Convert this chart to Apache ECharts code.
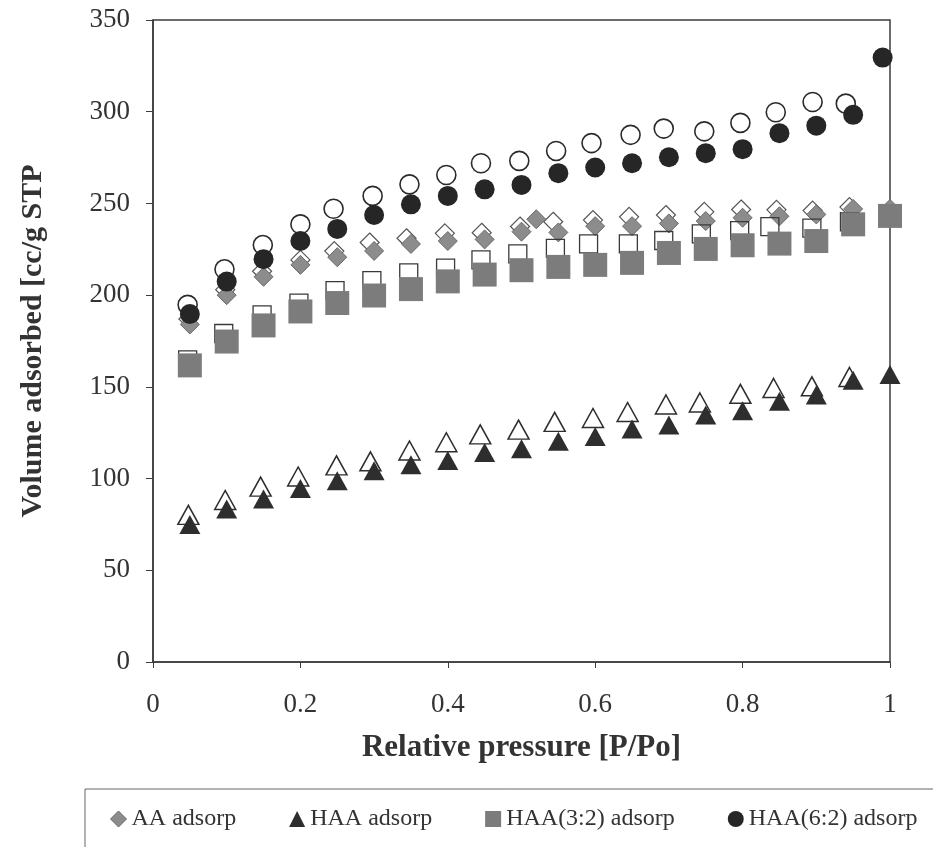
<!DOCTYPE html>
<html>
<head>
<meta charset="utf-8">
<title>Adsorption isotherms</title>
<script src="https://cdn.jsdelivr.net/npm/echarts@6.0.0/dist/echarts.min.js"></script>
<style>
  html, body { margin: 0; padding: 0; background: #fff; }
  #chart { width: 933px; height: 847px; }
</style>
</head>
<body>
<div id="chart"></div>
<script>
// relative pressure P/Po (adsorption branch)
var pAds = [0.05, 0.1, 0.15, 0.2, 0.25, 0.3, 0.35, 0.4, 0.45, 0.5, 0.55, 0.6, 0.65, 0.7, 0.75, 0.8, 0.85, 0.9, 0.95, 1.0];

// AA
var aaAdsX = [0.05, 0.1, 0.15, 0.2, 0.25, 0.3, 0.35, 0.4, 0.45, 0.5, 0.52, 0.55, 0.6, 0.65, 0.7, 0.75, 0.8, 0.85, 0.9, 0.95, 1.0];
var aaAds = [184, 200, 210, 216.5, 220.7, 224.1, 227.9, 229.5, 230.4, 234.6, 241.4, 234.2, 237.6, 237.6, 239.1, 240.4, 242.2, 243, 244, 247, 247];
var aaDesX = [0.048, 0.098, 0.148, 0.2, 0.246, 0.294, 0.344, 0.396, 0.446, 0.498, 0.543, 0.597, 0.646, 0.696, 0.748, 0.798, 0.846, 0.895, 0.945];
var aaDes = [187, 203, 213, 219.2, 224, 228.7, 231, 233.7, 234, 237.4, 240, 240.9, 242.7, 243.7, 245.4, 246.7, 246.5, 246.1, 248];

// HAA
var haaAds = [75, 83.4, 88.9, 94.6, 98.8, 104.3, 107.5, 109.9, 114.2, 116.3, 120.4, 122.9, 127, 129.2, 134.7, 137, 142.2, 145.6, 153.6, 156.8];
var haaDesX = [0.048, 0.098, 0.146, 0.197, 0.249, 0.295, 0.348, 0.398, 0.444, 0.496, 0.545, 0.597, 0.644, 0.696, 0.742, 0.797, 0.842, 0.894, 0.945];
var haaDes = [80.2, 88.3, 95.6, 101.1, 107.2, 109.4, 115.3, 119.8, 124.1, 126.7, 130.9, 133, 136.3, 140.4, 141.5, 146.2, 149.4, 150.3, 155.4];

// HAA(3:2)
var h32Ads = [161.7, 174.7, 183.5, 191.1, 195.7, 199.8, 203.3, 207.5, 211.2, 213.6, 215.4, 216.5, 217.6, 223, 225.2, 227.2, 228.1, 229.5, 238.6, 243.2];
var h32DesX = [0.047, 0.096, 0.148, 0.198, 0.247, 0.297, 0.347, 0.397, 0.445, 0.495, 0.546, 0.591, 0.645, 0.693, 0.744, 0.796, 0.837, 0.894, 0.945];
var h32Des = [164.7, 179.1, 189.2, 195.6, 202.5, 207.9, 212.1, 214.7, 219.2, 222.5, 225.5, 227.9, 227.9, 229.8, 233.4, 235.2, 237.4, 236.5, 240];

// HAA(6:2)
var h62AdsX = [0.05, 0.1, 0.15, 0.2, 0.25, 0.3, 0.35, 0.4, 0.45, 0.5, 0.55, 0.6, 0.65, 0.7, 0.75, 0.8, 0.85, 0.9, 0.95, 0.99];
var h62Ads = [189.7, 207.4, 219.6, 229.5, 236.1, 243.7, 249.5, 254.1, 257.7, 260.1, 266.5, 269.6, 271.9, 275.2, 277.4, 279.6, 288.3, 292.4, 298.3, 329.5];
var h62DesX = [0.047, 0.097, 0.149, 0.2, 0.245, 0.298, 0.348, 0.398, 0.445, 0.497, 0.547, 0.595, 0.648, 0.693, 0.748, 0.797, 0.845, 0.895, 0.94];
var h62Des = [194.7, 214.1, 227.3, 238.6, 247.1, 254.1, 260.4, 265.5, 271.9, 273.2, 278.6, 282.9, 287.4, 290.8, 289.3, 293.9, 299.7, 305.3, 304.4];

var legendNames = ['AA adsorp', 'HAA adsorp', 'HAA(3:2) adsorp', 'HAA(6:2) adsorp'];

function pairs(xs, ys) {
    var out = [];
    for (var i = 0; i < ys.length; i++) out.push([xs[i], ys[i]]);
    return out;
}

var serif = "'Liberation Serif', 'Times New Roman', serif";
var ink = '#333333';
var open = 'rgba(255,255,255,0)';

var chart = echarts.init(document.getElementById('chart'));

var option = {
    backgroundColor: '#ffffff',
    animation: false,
    grid: {
        left: 153,
        right: 43,
        top: 20,
        bottom: 185,
        show: true,
        borderColor: '#3c3c3c',
        borderWidth: 1.5
    },
    legend: {
        data: [
            { name: legendNames[0], icon: 'diamond', itemStyle: { color: '#8c8c8c', borderColor: '#6a6a6a', borderWidth: 1 } },
            { name: legendNames[1], icon: 'triangle', itemStyle: { color: '#2e2e2e' } },
            { name: legendNames[2], icon: 'rect', itemStyle: { color: '#7c7c7c' } },
            { name: legendNames[3], icon: 'circle', itemStyle: { color: '#262626' } }
        ],
        left: 85,
        top: 789,
        width: 900,
        orient: 'horizontal',
        padding: [18, 30, 18, 25],
        itemGap: 53,
        itemWidth: 16,
        itemHeight: 16,
        borderColor: '#666',
        borderWidth: 1,
        textStyle: { fontFamily: serif, fontSize: 24, color: ink }
    },
    xAxis: {
        type: 'value',
        min: 0,
        max: 1,
        interval: 0.2,
        name: 'Relative pressure [P/Po]',
        nameLocation: 'middle',
        nameGap: 70,
        nameTextStyle: { fontFamily: serif, fontSize: 31, fontWeight: 'bold', color: ink },
        axisLine: { show: true, onZero: false, lineStyle: { color: '#3c3c3c', width: 1.5 } },
        axisTick: { show: true, inside: false, length: 6, lineStyle: { color: '#3c3c3c' } },
        axisLabel: { margin: 29, fontFamily: serif, fontSize: 27, color: ink },
        splitLine: { show: false }
    },
    yAxis: {
        type: 'value',
        min: 0,
        max: 350,
        interval: 50,
        name: 'Volume adsorbed [cc/g STP',
        nameLocation: 'middle',
        nameGap: 105,
        nameTextStyle: { fontFamily: serif, fontSize: 30, fontWeight: 'bold', color: ink },
        axisLine: { show: true, onZero: false, lineStyle: { color: '#3c3c3c', width: 1.5 } },
        axisTick: { show: true, inside: false, length: 7, lineStyle: { color: '#3c3c3c' } },
        axisLabel: { margin: 23, fontFamily: serif, fontSize: 27, color: ink },
        splitLine: { show: false }
    },
    series: [
        {
            name: 'AA desorp', type: 'scatter', symbol: 'diamond', symbolSize: 19,
            itemStyle: { color: open, borderColor: '#555', borderWidth: 1.2, opacity: 1 },
            data: pairs(aaDesX, aaDes)
        },
        {
            name: 'AA adsorp', type: 'scatter', symbol: 'diamond', symbolSize: 19,
            itemStyle: { color: '#8c8c8c', borderColor: '#6a6a6a', borderWidth: 1, opacity: 1 },
            data: pairs(aaAdsX, aaAds)
        },
        {
            name: 'HAA desorp', type: 'scatter', symbol: 'triangle', symbolSize: [21, 19],
            itemStyle: { color: open, borderColor: '#2e2e2e', borderWidth: 1.5, opacity: 1 },
            data: pairs(haaDesX, haaDes)
        },
        {
            name: 'HAA adsorp', type: 'scatter', symbol: 'triangle', symbolSize: [21, 19],
            itemStyle: { color: '#2e2e2e', opacity: 1 },
            data: pairs(pAds, haaAds)
        },
        {
            name: 'HAA(3:2) desorp', type: 'scatter', symbol: 'rect', symbolSize: 18,
            itemStyle: { color: open, borderColor: '#3a3a3a', borderWidth: 1.3, opacity: 1 },
            data: pairs(h32DesX, h32Des)
        },
        {
            name: 'HAA(3:2) adsorp', type: 'scatter', symbol: 'rect', symbolSize: 24,
            itemStyle: { color: '#7c7c7c', opacity: 1 },
            data: pairs(pAds, h32Ads)
        },
        {
            name: 'HAA(6:2) desorp', type: 'scatter', symbol: 'circle', symbolSize: 19,
            itemStyle: { color: open, borderColor: '#2a2a2a', borderWidth: 1.6, opacity: 1 },
            data: pairs(h62DesX, h62Des)
        },
        {
            name: 'HAA(6:2) adsorp', type: 'scatter', symbol: 'circle', symbolSize: 20,
            itemStyle: { color: '#262626', opacity: 1 },
            data: pairs(h62AdsX, h62Ads)
        }
    ]
};

chart.setOption(option);
</script>
</body>
</html>
